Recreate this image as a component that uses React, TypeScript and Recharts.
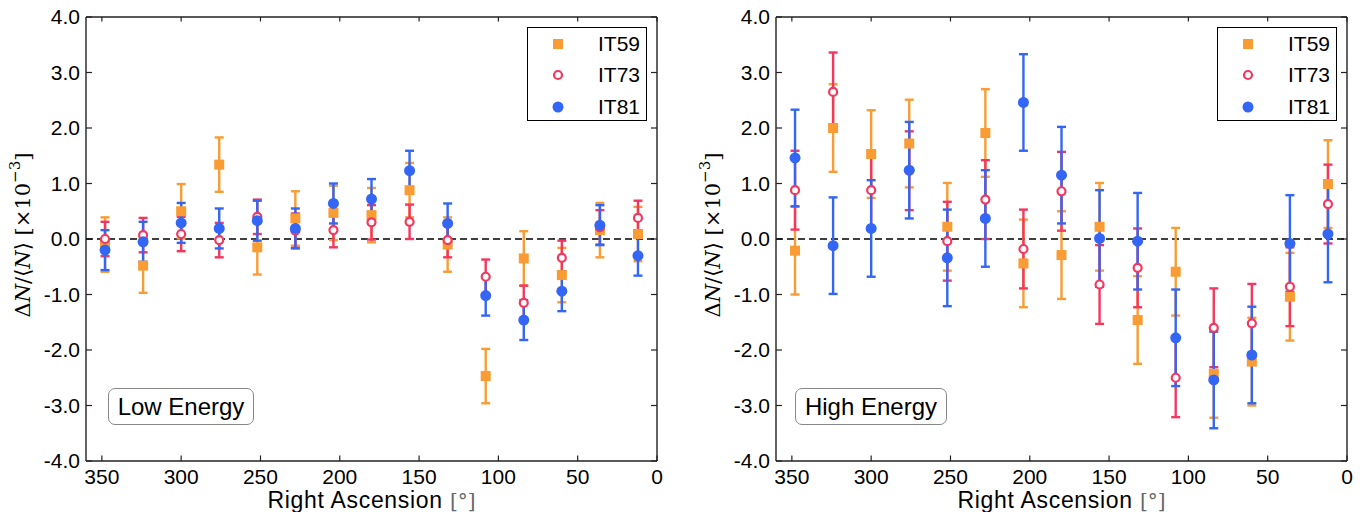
import {
  ScatterChart,
  Scatter,
  XAxis,
  YAxis,
  ErrorBar,
  ReferenceLine,
  Label,
} from "recharts"

// RA bin centres (24 deg bins)
const raBins = [348, 324, 300, 276, 252, 228, 204, 180, 156, 132, 108, 84, 60, 36, 12]

// Low energy
const lowIT59 = [-0.1, -0.48, 0.5, 1.34, -0.15, 0.37, 0.47, 0.43, 0.88, -0.1, -2.47, -0.35, -0.65, 0.16, 0.09]
const lowIT73 = [0.0, 0.07, 0.09, -0.02, 0.4, 0.15, 0.16, 0.3, 0.31, -0.02, -0.68, -1.15, -0.34, 0.21, 0.38]
const lowIT81 = [-0.2, -0.05, 0.29, 0.19, 0.33, 0.19, 0.64, 0.72, 1.23, 0.28, -1.02, -1.46, -0.94, 0.25, -0.3]
const lowErr = { it59: 0.49, it73: 0.31, it81: 0.36 }

// High energy
const highIT59 = [-0.21, 2.0, 1.53, 1.72, 0.22, 1.91, -0.44, -0.29, 0.22, -1.46, -0.59, -2.43, -2.21, -1.04, 0.99]
const highIT73 = [0.88, 2.65, 0.88, 1.23, -0.04, 0.71, -0.18, 0.86, -0.82, -0.52, -2.5, -1.6, -1.52, -0.86, 0.63]
const highIT81 = [1.46, -0.12, 0.19, 1.24, -0.34, 0.37, 2.46, 1.15, 0.01, -0.04, -1.78, -2.54, -2.09, -0.08, 0.09]
const highErr = { it59: 0.79, it73: 0.71, it81: 0.87 }

const xTicks = [0, 50, 100, 150, 200, 250, 300, 350]
const yTicks = [-4, -3, -2, -1, 0, 1, 2, 3, 4]
const seriesNames = ["IT59", "IT73", "IT81"]

const COLORS = {
  it59: "#F99C33",
  it73: "#F4375F",
  it81: "#3366F4",
}

const FONT = "'Liberation Sans', Arial, Helvetica, sans-serif"
const SPINE = "#222"

const toPoints = (vals: number[], err: number) =>
  vals.map((v, i) => ({ ra: raBins[i], v, err }))

// eslint-disable-next-line @typescript-eslint/no-explicit-any
const SquareDot = (props: any) => {
  const { cx, cy } = props
  return <rect x={cx - 5} y={cy - 5} width={10} height={10} fill={COLORS.it59} />
}

// eslint-disable-next-line @typescript-eslint/no-explicit-any
const RingDot = (props: any) => {
  const { cx, cy } = props
  return <circle cx={cx} cy={cy} r={4} fill="#fff" stroke={COLORS.it73} strokeWidth={2.2} />
}

// eslint-disable-next-line @typescript-eslint/no-explicit-any
const FilledDot = (props: any) => {
  const { cx, cy } = props
  return <circle cx={cx} cy={cy} r={5.5} fill={COLORS.it81} />
}

const XLabel = () => (
  <text x={371.5} y={508} textAnchor="middle" fontFamily={FONT} fontSize={23} letterSpacing={0.7} fill="#000">
    Right Ascension{" "}
    <tspan fontFamily="'DejaVu Serif', serif" fill="#666" fontSize={20} letterSpacing={0}>[°]</tspan>
  </text>
)

const YLabel = () => (
  <text
    x={23}
    y={235}
    transform="rotate(-90, 23, 235)"
    textAnchor="middle"
    dominantBaseline="central"
    fontFamily="'DejaVu Serif', serif"
    fontSize={21}
    fill="#000"
  >
    <tspan>Δ</tspan>
    <tspan fontStyle="italic">N</tspan>
    <tspan>/⟨</tspan>
    <tspan fontStyle="italic">N</tspan>
    <tspan>⟩ [×10</tspan>
    <tspan dy={-8} fontSize={15}>−3</tspan>
    <tspan dy={8}>]</tspan>
  </text>
)

const LegendBox = () => (
  <div
    style={{
      position: "absolute",
      left: 527,
      top: 27,
      width: 118,
      height: 92,
      border: "1px solid #000",
      background: "#fff",
      fontFamily: FONT,
      fontSize: 21,
    }}
  >
    {seriesNames.map((name, i) => (
      <div
        key={name}
        style={{
          position: "absolute",
          left: 0,
          top: 16 + i * 31.3 - 15,
          height: 30,
          display: "flex",
          alignItems: "center",
        }}
      >
        <svg width={70} height={30}>
          {i === 0 && <rect x={25} y={10} width={10} height={10} fill={COLORS.it59} />}
          {i === 1 && <circle cx={30} cy={15} r={4} fill="#fff" stroke={COLORS.it73} strokeWidth={2.2} />}
          {i === 2 && <circle cx={30} cy={15} r={5.5} fill={COLORS.it81} />}
        </svg>
        <span>{name}</span>
      </div>
    ))}
  </div>
)

interface PanelProps {
  left: number
  width: number
  it59: number[]
  it73: number[]
  it81: number[]
  err: { it59: number; it73: number; it81: number }
  title: string
  boxLeft: number
  boxWidth: number
}

function Panel({ left, width, it59, it73, it81, err, title, boxLeft, boxWidth }: PanelProps) {
  return (
    <div style={{ position: "absolute", left, top: 0, width, height: 512 }}>
      <ScatterChart
        width={width}
        height={512}
        margin={{ top: 17, right: width - 657, bottom: 0, left: 26 }}
      >
        <XAxis
          type="number"
          dataKey="ra"
          domain={[0, 360]}
          reversed
          ticks={xTicks}
          allowDataOverflow
          tickLine={false}
          tickSize={0}
          tickMargin={8}
          height={51}
          axisLine={{ stroke: SPINE, strokeWidth: 1.4 }}
          tick={{ fill: "#000", fontSize: 21, fontFamily: FONT }}
        >
          <Label content={<XLabel />} />
        </XAxis>
        <YAxis
          type="number"
          dataKey="v"
          domain={[-4, 4]}
          ticks={yTicks}
          allowDataOverflow
          tickLine={false}
          tickSize={0}
          tickMargin={6}
          width={60}
          axisLine={{ stroke: SPINE, strokeWidth: 1.4 }}
          tickFormatter={(v: number) => v.toFixed(1)}
          tick={{ fill: "#000", fontSize: 21, fontFamily: FONT }}
        >
          <Label content={<YLabel />} />
        </YAxis>

        {/* top and right spines */}
        <ReferenceLine y={4} stroke={SPINE} strokeWidth={1.4} />
        <ReferenceLine x={0} stroke={SPINE} strokeWidth={1.4} />

        {/* inward ticks */}
        {xTicks.map((t) => (
          <ReferenceLine key={`xb-${t}`} segment={[{ x: t, y: -4 }, { x: t, y: -3.9 }]} stroke={SPINE} strokeWidth={1.2} />
        ))}
        {xTicks.map((t) => (
          <ReferenceLine key={`xt-${t}`} segment={[{ x: t, y: 4 }, { x: t, y: 3.92 }]} stroke={SPINE} strokeWidth={1.2} />
        ))}
        {yTicks.map((t) => (
          <ReferenceLine key={`yl-${t}`} segment={[{ x: 360, y: t }, { x: 356.2, y: t }]} stroke={SPINE} strokeWidth={1.2} />
        ))}
        {yTicks.map((t) => (
          <ReferenceLine key={`yr-${t}`} segment={[{ x: 0, y: t }, { x: 3.8, y: t }]} stroke={SPINE} strokeWidth={1.2} />
        ))}

        <ReferenceLine y={0} stroke="#000" strokeWidth={1.6} strokeDasharray="7 4" />

        <Scatter name="IT59" data={toPoints(it59, err.it59)} shape={<SquareDot />} isAnimationActive={false}>
          <ErrorBar dataKey="err" direction="y" width={4.5} stroke={COLORS.it59} strokeWidth={2.4} />
        </Scatter>
        <Scatter name="IT73" data={toPoints(it73, err.it73)} shape={<RingDot />} isAnimationActive={false}>
          <ErrorBar dataKey="err" direction="y" width={4.5} stroke={COLORS.it73} strokeWidth={2.4} />
        </Scatter>
        <Scatter name="IT81" data={toPoints(it81, err.it81)} shape={<FilledDot />} isAnimationActive={false}>
          <ErrorBar dataKey="err" direction="y" width={4.5} stroke={COLORS.it81} strokeWidth={2.4} />
        </Scatter>
      </ScatterChart>

      <LegendBox />

      <div
        style={{
          position: "absolute",
          left: boxLeft,
          top: 388,
          width: boxWidth,
          height: 37,
          boxSizing: "border-box",
          border: "1px solid #888",
          borderRadius: 7,
          background: "#fff",
          fontFamily: FONT,
          fontSize: 24,
          lineHeight: "35px",
          textAlign: "center",
          color: "#000",
        }}
      >
        {title}
      </div>
    </div>
  )
}

export default function App() {
  return (
    <div style={{ position: "absolute", left: 0, top: 0, width: 1362, height: 512, background: "#fff", overflow: "hidden" }}>
      <Panel
        left={0}
        width={690}
        it59={lowIT59}
        it73={lowIT73}
        it81={lowIT81}
        err={lowErr}
        title="Low Energy"
        boxLeft={108}
        boxWidth={146}
      />
      <Panel
        left={690}
        width={672}
        it59={highIT59}
        it73={highIT73}
        it81={highIT81}
        err={highErr}
        title="High Energy"
        boxLeft={105}
        boxWidth={152}
      />
    </div>
  )
}
